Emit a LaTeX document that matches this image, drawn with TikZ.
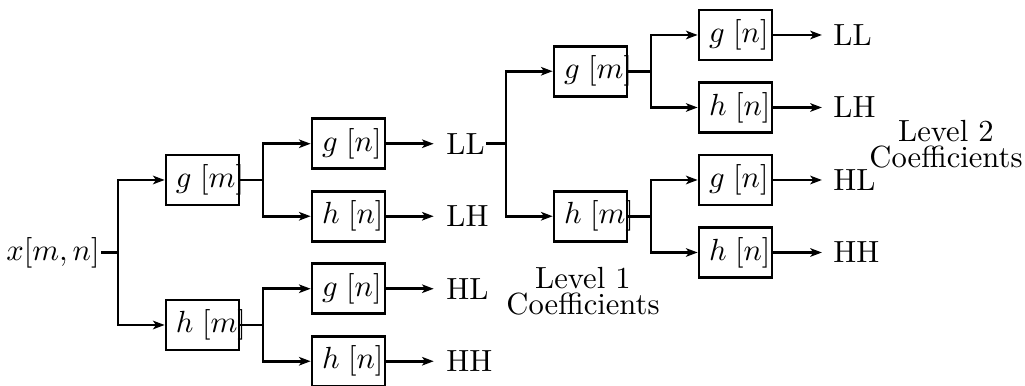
\documentclass[tikz,border=0pt]{standalone}
\usetikzlibrary{arrows.meta}
\def\pxu{0.3268pt}
\begin{document}
\begin{tikzpicture}[x=0.3268pt, y=-0.3268pt,
  line width=0.9pt,
  blk/.style={draw, line width=0.9pt, text width=53*\pxu, align=left,
    inner xsep=10*\pxu, minimum height=50*\pxu, inner ysep=0pt},
  arr/.style={-{Stealth[length=3.8pt, width=2.8pt, inset=1pt]}},
  outlbl/.style={anchor=west, inner sep=0pt},
  note/.style={align=center, inner sep=0pt, font={\fontsize{10pt}{8.6pt}\selectfont}}]
\useasboundingbox (0,0) rectangle (1025,386);
% row positions
\def\ra{35}\def\rb{71.25}\def\rc{107.5}\def\rd{143.75}\def\re{180}
\def\rf{216.25}\def\rg{252.5}\def\rh{288.75}\def\ri{325}\def\rj{361.25}

% input
\node[anchor=east, inner sep=0pt] (xin) at (101,\rg) {$x[m,n]$};

% first stage (rows)
\node[blk] (gm) at (202.5,\re) {$g\;[m]$};
\node[blk] (hm) at (202.5,\ri) {$h\;[m]$};

% second stage (columns)
\node[blk] (gn1) at (348.5,\rd) {$g\;[n]$};
\node[blk] (hn1) at (348.5,\rf) {$h\;[n]$};
\node[blk] (gn2) at (348.5,\rh) {$g\;[n]$};
\node[blk] (hn2) at (348.5,\rj) {$h\;[n]$};

% level 1 sub-bands
\node[outlbl] (LL1) at (445,\rd) {LL};
\node[outlbl] (LH1) at (445,\rf) {LH};
\node[outlbl] (HL1) at (445,\rh) {HL};
\node[outlbl] (HH1) at (445,\rj) {HH};

% level 2 decomposition of LL
\node[blk] (gm2) at (590.5,\rb) {$g\;[m]$};
\node[blk] (hm2) at (590.5,\rf) {$h\;[m]$};
\node[blk] (gn3) at (735.5,\ra) {$g\;[n]$};
\node[blk] (hn3) at (735.5,\rc) {$h\;[n]$};
\node[blk] (gn4) at (735.5,\re) {$g\;[n]$};
\node[blk] (hn4) at (735.5,\rg) {$h\;[n]$};

\node[outlbl] (LL2) at (832,\ra) {LL};
\node[outlbl] (LH2) at (832,\rc) {LH};
\node[outlbl] (HL2) at (832,\re) {HL};
\node[outlbl] (HH2) at (832,\rg) {HH};

% annotations
\node[note] (lev1) at (583,291) {Level 1\\Coefficients};
\node[note] (lev2) at (946,144) {Level 2\\Coefficients};

% branch points
\coordinate (j0) at (118,\rg);
\coordinate (j1) at (263,\re);
\coordinate (j2) at (263,\ri);
\coordinate (j3) at (506,\rd);
\coordinate (j4) at (651,\rb);
\coordinate (j5) at (651,\rf);

% connectors
\draw[arr] (xin.east) -- (j0) |- (gm.west);
\draw[arr] (j0) |- (hm.west);

\draw (gm.east) -- (j1);
\draw[arr] (j1) |- (gn1.west);
\draw[arr] (j1) |- (hn1.west);
\draw (hm.east) -- (j2);
\draw[arr] (j2) |- (gn2.west);
\draw[arr] (j2) |- (hn2.west);

\draw[arr, shorten >=3.7pt] (gn1.east) -- (LL1.west);
\draw[arr, shorten >=3.7pt] (hn1.east) -- (LH1.west);
\draw[arr, shorten >=3.7pt] (gn2.east) -- (HL1.west);
\draw[arr, shorten >=3.7pt] (hn2.east) -- (HH1.west);

\draw (LL1.east) -- (j3);
\draw[arr] (j3) |- (gm2.west);
\draw[arr] (j3) |- (hm2.west);

\draw (gm2.east) -- (j4);
\draw[arr] (j4) |- (gn3.west);
\draw[arr] (j4) |- (hn3.west);
\draw (hm2.east) -- (j5);
\draw[arr] (j5) |- (gn4.west);
\draw[arr] (j5) |- (hn4.west);

\draw[arr, shorten >=3.3pt] (gn3.east) -- (LL2.west);
\draw[arr, shorten >=3.3pt] (hn3.east) -- (LH2.west);
\draw[arr, shorten >=3.3pt] (gn4.east) -- (HL2.west);
\draw[arr, shorten >=3.3pt] (hn4.east) -- (HH2.west);
\end{tikzpicture}
\end{document}
